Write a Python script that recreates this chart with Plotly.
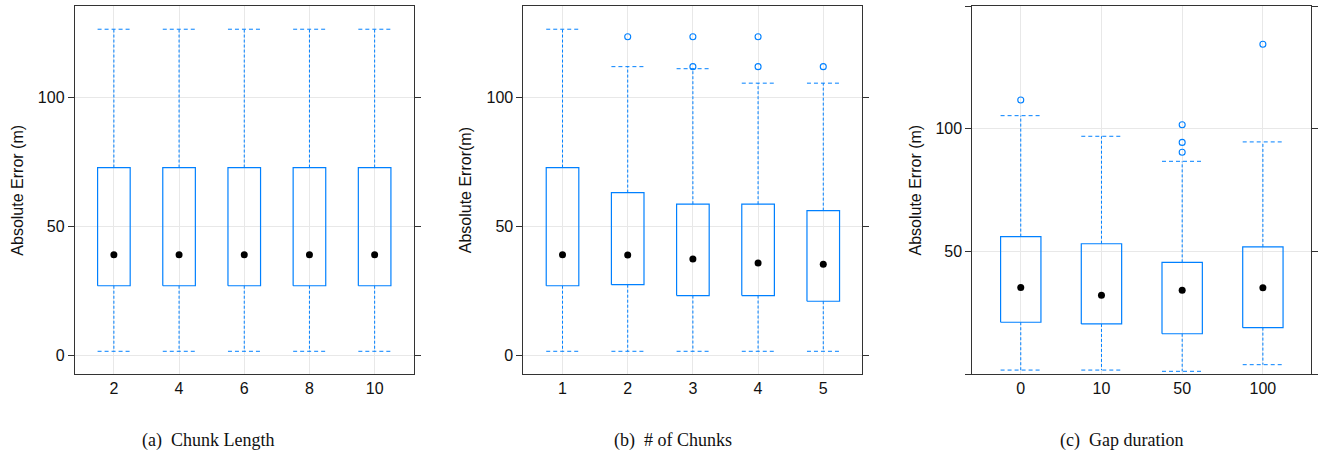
import plotly.graph_objects as go

W, H = 1318, 451

# ---------------- data ----------------
a_cats = ["2", "4", "6", "8", "10"]
a_lower = [1.7, 1.7, 1.7, 1.7, 1.7]
a_q1 = [27.1, 27.1, 27.1, 27.1, 27.1]
a_med = [39.1, 39.1, 39.1, 39.1, 39.1]
a_q3 = [72.9, 72.9, 72.9, 72.9, 72.9]
a_upper = [126.5, 126.5, 126.5, 126.5, 126.5]
a_out = [[], [], [], [], []]

b_cats = ["1", "2", "3", "4", "5"]
b_lower = [1.7, 1.7, 1.7, 1.7, 1.7]
b_q1 = [27.1, 27.5, 23.3, 23.3, 21.1]
b_med = [39.1, 39.0, 37.5, 35.9, 35.4]
b_q3 = [72.9, 63.2, 58.7, 58.7, 56.2]
b_upper = [126.5, 112.0, 111.2, 105.6, 105.6]
b_out = [[], [123.6], [123.6, 112.0], [123.6, 112.0], [112.0]]

c_cats = ["0", "10", "50", "100"]
c_lower = [1.6, 1.6, 1.1, 3.8]
c_q1 = [21.1, 20.4, 16.4, 18.9]
c_med = [35.3, 32.1, 34.1, 35.2]
c_q3 = [56.0, 53.1, 45.5, 51.8]
c_upper = [105.3, 96.9, 86.7, 94.6]
c_out = [[111.7], [], [101.6, 94.4, 90.4], [134.4]]

ab_yticks = [0, 50, 100]
c_yticks = [0, 50, 100, 150]
c_yticktext = ["", "50", "100", ""]

y_titles = ["Absolute Error (m)", "Absolute Error(m)", "Absolute Error (m)"]
captions = ["(a)\u2002Chunk Length", "(b)\u2002# of Chunks", "(c)\u2002Gap duration"]

# ---------------- style ----------------
BLUE = "#0080ff"
GRID = "#e8e8e8"
AXC = "#333333"
FONT = "Liberation Sans, Arial, sans-serif"
SERIF = "Liberation Serif, Times New Roman, serif"
HALF = 0.25

fig = go.Figure()


def add_panel(n, cats, lower, q1, med, q3, upper, outs):
    xa = "x" if n == 1 else f"x{n}"
    ya = "y" if n == 1 else f"y{n}"
    bx, by, wx, wy, cx, cy, ox, oy = [], [], [], [], [], [], [], []
    for i in range(len(cats)):
        bx += [i - HALF, i + HALF, i + HALF, i - HALF, i - HALF, None]
        by += [q1[i], q1[i], q3[i], q3[i], q1[i], None]
        wx += [i, i, None, i, i, None]
        wy += [q3[i], upper[i], None, q1[i], lower[i], None]
        cx += [i - HALF, i + HALF, None, i - HALF, i + HALF, None]
        cy += [upper[i], upper[i], None, lower[i], lower[i], None]
        for v in outs[i]:
            ox.append(i)
            oy.append(v)
    common = dict(xaxis=xa, yaxis=ya, showlegend=False, hoverinfo="skip")
    fig.add_trace(go.Scatter(x=wx, y=wy, mode="lines",
                             line=dict(color=BLUE, width=1, dash="3px,2px"), **common))
    fig.add_trace(go.Scatter(x=cx, y=cy, mode="lines",
                             line=dict(color=BLUE, width=1, dash="4px,3px"), **common))
    fig.add_trace(go.Scatter(x=bx, y=by, mode="lines",
                             line=dict(color=BLUE, width=1.2), **common))
    fig.add_trace(go.Scatter(x=list(range(len(cats))), y=med, mode="markers",
                             marker=dict(color="black", size=7), **common))
    if ox:
        fig.add_trace(go.Scatter(x=ox, y=oy, mode="markers",
                                 marker=dict(symbol="circle-open", color=BLUE, size=6,
                                             line=dict(width=1.1, color=BLUE)), **common))


add_panel(1, a_cats, a_lower, a_q1, a_med, a_q3, a_upper, a_out)
add_panel(2, b_cats, b_lower, b_q1, b_med, b_q3, b_upper, b_out)
add_panel(3, c_cats, c_lower, c_q1, c_med, c_q3, c_upper, c_out)

# plot area positions (pixels)
px_x = [(75, 415), (525, 865), (975.3, 1315.3)]
top_px, bot_px = 6, 374
ydom = [1 - bot_px / H, 1 - top_px / H]

xaxis_common = dict(showline=True, linecolor=AXC, linewidth=1, mirror=True,
                    ticks="", showgrid=True, gridcolor=GRID, gridwidth=1,
                    zeroline=False, tickfont=dict(family=FONT, size=16, color="#111"),
                    fixedrange=True)
yaxis_common = dict(showline=True, linecolor=AXC, linewidth=1, mirror="ticks",
                    ticks="outside", ticklen=6, tickcolor=AXC, tickwidth=1,
                    showgrid=True, gridcolor=GRID, gridwidth=1, zeroline=False,
                    tickfont=dict(family=FONT, size=16, color="#111"),
                    fixedrange=True, domain=ydom)

cats_all = [a_cats, b_cats, c_cats]
layout = {}
for k in range(3):
    xn = "xaxis" if k == 0 else f"xaxis{k+1}"
    yn = "yaxis" if k == 0 else f"yaxis{k+1}"
    n = len(cats_all[k])
    layout[xn] = dict(xaxis_common, domain=[px_x[k][0] / W, px_x[k][1] / W],
                      range=[-0.6, n - 0.4], tickmode="array",
                      tickvals=list(range(n)), ticktext=cats_all[k],
                      anchor="y" if k == 0 else f"y{k+1}")
    if k < 2:
        layout[yn] = dict(yaxis_common, range=[-7.1, 135.5], tickmode="array",
                          tickvals=ab_yticks, ticktext=[str(v) for v in ab_yticks],
                          anchor="x" if k == 0 else f"x{k+1}")
    else:
        layout[yn] = dict(yaxis_common, range=[0, 150], tickmode="array",
                          tickvals=c_yticks, ticktext=c_yticktext,
                          anchor=f"x{k+1}")

annotations = []
ytitle_x = [16.7, 466.7, 917.3]
for k in range(3):
    annotations.append(dict(text=y_titles[k], x=ytitle_x[k] / W, y=1 - 190 / H,
                            xref="paper", yref="paper", showarrow=False, textangle=-90,
                            xanchor="center", yanchor="middle",
                            font=dict(family=FONT, size=16, color="#111")))
cap_x = [208.3, 674.7, 1124.7]
for k in range(3):
    annotations.append(dict(text=captions[k], x=cap_x[k] / W, y=1 - 440 / H,
                            xref="paper", yref="paper", showarrow=False,
                            xanchor="center", yanchor="middle",
                            font=dict(family=SERIF, size=18, color="#111")))

fig.update_layout(width=W, height=H, margin=dict(l=0, r=0, t=0, b=0),
                  paper_bgcolor="white", plot_bgcolor="white",
                  annotations=annotations, **layout)

fig.write_html("out.html", config={"displayModeBar": False},
               post_script="document.body.style.margin='0';document.body.style.padding='0';")
